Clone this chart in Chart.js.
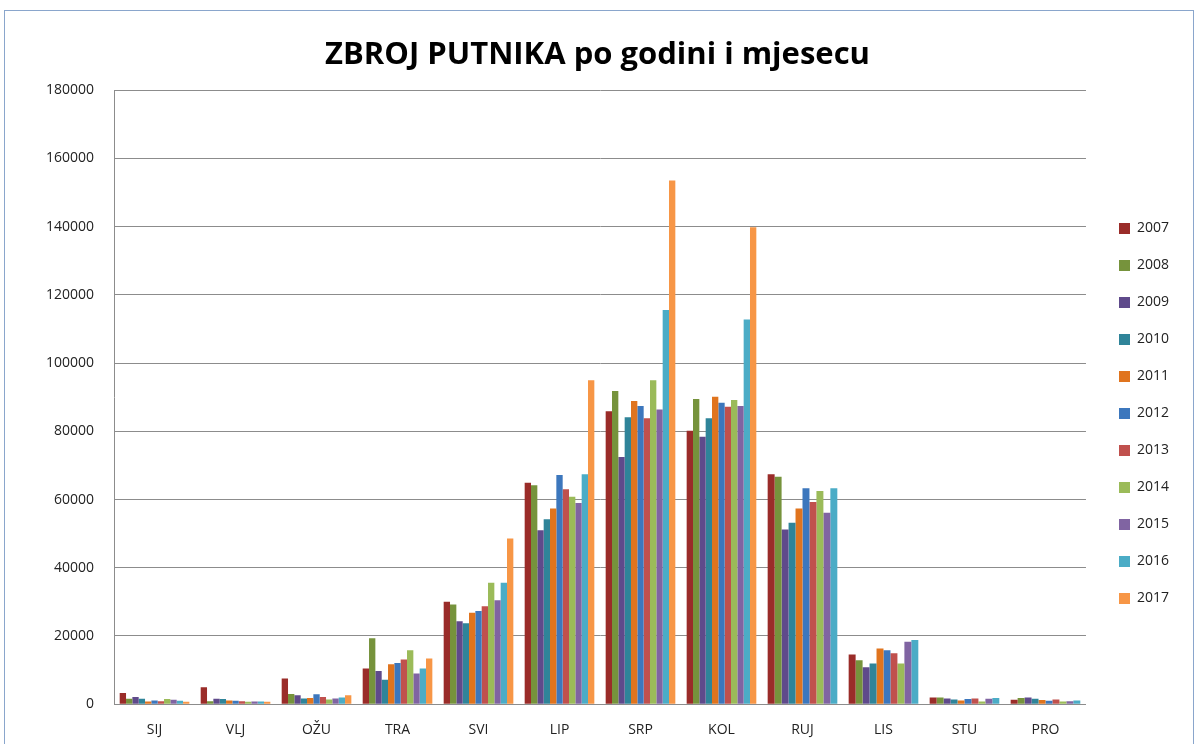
<!DOCTYPE html>
<html>
<head>
<meta charset="utf-8">
<script src="https://cdn.jsdelivr.net/npm/chart.js@4"></script>
<style>
    body { margin: 0; background: #ffffff; }
    #wrap { position: relative; width: 1199px; height: 744px; }
    #frame { position: absolute; left: 4px; top: 10px; width: 1190px; height: 760px; border: 1px solid #8aa6cc; box-sizing: border-box; pointer-events: none; }
</style>
</head>
<body>
<div id="wrap">
    <canvas id="passengerChart" width="1199" height="744"></canvas>
    <div id="frame"></div>
</div>
<script>
let months = ['SIJ', 'VLJ', 'OŽU', 'TRA', 'SVI', 'LIP', 'SRP', 'KOL', 'RUJ', 'LIS', 'STU', 'PRO'];
let years = ['2007', '2008', '2009', '2010', '2011', '2012', '2013', '2014', '2015', '2016', '2017'];

let y2007 = [3300, 5000, 7500, 10500, 30000, 64900, 85900, 80200, 67400, 14600, 2000, 1300];
let y2008 = [1600, 900, 3000, 19300, 29200, 64200, 91800, 89500, 66700, 12900, 2000, 1800];
let y2009 = [2100, 1600, 2600, 9700, 24300, 51000, 72500, 78400, 51200, 10800, 1700, 2000];
let y2010 = [1600, 1500, 1700, 7200, 23700, 54200, 84100, 83800, 53200, 11900, 1400, 1600];
let y2011 = [800, 1100, 1800, 11700, 26800, 57400, 88900, 90100, 57400, 16300, 1100, 1200];
let y2012 = [1100, 1000, 2900, 12100, 27300, 67200, 87400, 88400, 63300, 15800, 1500, 1000];
let y2013 = [900, 900, 2100, 13100, 28700, 63000, 83800, 87200, 59300, 14900, 1700, 1400];
let y2014 = [1500, 700, 1400, 15800, 35600, 60800, 95000, 89200, 62500, 11900, 800, 800];
let y2015 = [1300, 800, 1700, 9000, 30500, 59000, 86400, 87400, 56100, 18300, 1600, 900];
let y2016 = [1000, 800, 2000, 10500, 35600, 67400, 115600, 112800, 63300, 18800, 1800, 1100];
let y2017 = [700, 700, 2600, 13400, 48600, 95000, 153500, 139800, null, null, null, null];

let yTicks = [0, 20000, 40000, 60000, 80000, 100000, 120000, 140000, 160000, 180000];

let seriesValues = [y2007, y2008, y2009, y2010, y2011, y2012, y2013, y2014, y2015, y2016, y2017];
let colors = ['#9a2c29', '#76933c', '#5f4a8b', '#2f8499', '#e0741e', '#3c77bd',
              '#c0504d', '#9bbb59', '#8064a2', '#4bacc6', '#f79646'];

let datasets = years.map(function(year, i) {
    return {
        label: year,
        data: seriesValues[i],
        backgroundColor: colors[i],
        borderWidth: 0,
        categoryPercentage: 0.86,
        barPercentage: 1.0
    };
});

// nudge the legend a bit right and down, like the original sheet
let legendNudge = {
    id: 'legendNudge',
    afterLayout: function(chart) {
        let lg = chart.legend;
        lg.left += 10;
        lg.right += 10;
        lg.top += 28;
        lg.bottom += 28;
    }
};

let ctx = document.getElementById('passengerChart').getContext('2d');
let passengerChart = new Chart(ctx, {
    type: 'bar',
    data: {
        labels: months,
        datasets: datasets
    },
    plugins: [legendNudge],
    options: {
        responsive: false,
        animation: false,
        skipNull: true,
        layout: {
            padding: { left: 26, right: 30, top: 16, bottom: -11 }
        },
        plugins: {
            title: {
                display: true,
                text: 'ZBROJ PUTNIKA po godini i mjesecu',
                color: '#000000',
                font: { family: 'Open Sans', size: 31, weight: 'bold' },
                padding: { top: 21, bottom: 16 }
            },
            legend: {
                position: 'right',
                labels: {
                    boxWidth: 11,
                    boxHeight: 11,
                    padding: 23,
                    color: '#222222',
                    font: { family: 'Open Sans', size: 14 }
                }
            },
            tooltip: { enabled: false }
        },
        scales: {
            x: {
                grid: { display: false, drawTicks: false },
                border: { color: '#8c8c8c', width: 1 },
                ticks: {
                    color: '#222222',
                    padding: 17,
                    font: { family: 'Open Sans', size: 14 }
                }
            },
            y: {
                min: 0,
                max: 180000,
                afterBuildTicks: function(axis) {
                    axis.ticks = yTicks.map(function(v) { return { value: v }; });
                },
                grid: { color: '#8c8c8c', lineWidth: 1, drawTicks: false },
                border: { color: '#8c8c8c', width: 1 },
                ticks: {
                    color: '#222222',
                    padding: 20,
                    font: { family: 'Open Sans', size: 14 },
                    callback: function(value) { return String(value); }
                }
            }
        }
    }
});
</script>
</body>
</html>
